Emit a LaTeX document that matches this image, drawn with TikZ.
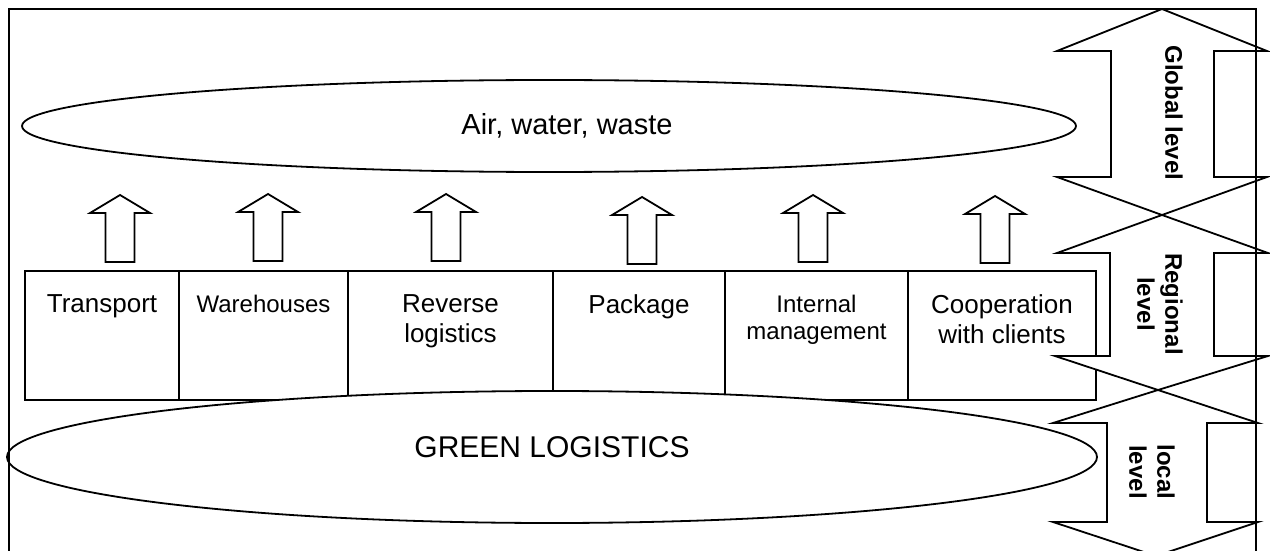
\documentclass[tikz,border=0pt]{standalone}
\usepackage{fontspec}
\setmainfont{Liberation Sans}
\usetikzlibrary{shapes.geometric}

\begin{document}
\begin{tikzpicture}[x=0.5pt,y=-0.5pt,line width=0.9pt,
  oval/.style={ellipse,draw,fill=white,inner sep=0pt},
  box/.style={draw,anchor=north west,minimum height=64.5pt,inner sep=0pt,outer sep=0pt},
  boxtext/.style={anchor=north,inner sep=0pt,yshift=-11.5pt,align=center,font=\fontsize{13}{15}\selectfont},
  smalltext/.style={boxtext,font=\fontsize{12}{13.5}\selectfont},
  level/.style={rotate=-90,align=center,font=\fontsize{12}{14}\selectfont\bfseries},
  blockarrow/.style={draw,fill=white},
  uparrow/.pic={\path[blockarrow] (0,0) -- (30,18) -- (14.5,18) -- (14.5,67) -- (-14.5,67) -- (-14.5,18) -- (-30,18) -- cycle;}]

  \useasboundingbox (0,0) rectangle (1270,551);

  \node[oval,minimum width=527pt,minimum height=46pt,
    label={[anchor=center,xshift=9pt,font=\fontsize{14.5}{17}\selectfont]center:{Air, water, waste}}] (air) at (549,126) {};

  \node[box,minimum width=77pt,label={[boxtext]north:Transport}] (transport) at (25,271) {};
  \node[box,minimum width=84.5pt,label={[smalltext]north:Warehouses}] (warehouses) at (transport.north east) {};
  \node[box,minimum width=102.5pt,label={[boxtext]north:Reverse\\logistics}] (reverse) at (warehouses.north east) {};
  \node[box,minimum width=86pt,label={[boxtext]north:Package}] (package) at (reverse.north east) {};
  \node[box,minimum width=91.5pt,label={[smalltext]north:Internal\\management}] (internal) at (package.north east) {};
  \node[box,minimum width=94pt,label={[boxtext]north:Cooperation\\with clients}] (clients) at (internal.north east) {};

  \node[oval,minimum width=545pt,minimum height=66pt,
    label={[anchor=center,yshift=5pt,font=\fontsize{15}{18}\selectfont]center:GREEN LOGISTICS}] (green) at (552,457) {};

  \pic at (120,195) {uparrow};
  \pic at (268,194) {uparrow};
  \pic at (446,194) {uparrow};
  \pic at (642,197) {uparrow};
  \pic at (813,195) {uparrow};
  \pic at (995,196) {uparrow};

  \path[blockarrow] (1162,9) -- (1267,51) -- (1214,51) -- (1214,177) -- (1267,177) -- (1162,215)
    -- (1057,177) -- (1111,177) -- (1111,51) -- (1057,51) -- cycle;
  \path[blockarrow] (1162,215) -- (1268,253) -- (1214,253) -- (1214,356) -- (1268,356) -- (1158,390)
    -- (1055,356) -- (1110,356) -- (1110,253) -- (1057,253) -- cycle;
  \path[blockarrow] (1158,390) -- (1258,423) -- (1207,423) -- (1207,522) -- (1258,522) -- (1156,556)
    -- (1053,522) -- (1107,522) -- (1107,423) -- (1053,423) -- cycle;

  \node[level] (global) at (1174,113) {Global level};
  \node[level] (regional) at (1160,304) {Regional\\level};
  \node[level] (local) at (1152,472) {local\\level};

  \draw[line width=1.4pt] (9,551) |- (1256,9) -- (1256,551);
\end{tikzpicture}
\end{document}
